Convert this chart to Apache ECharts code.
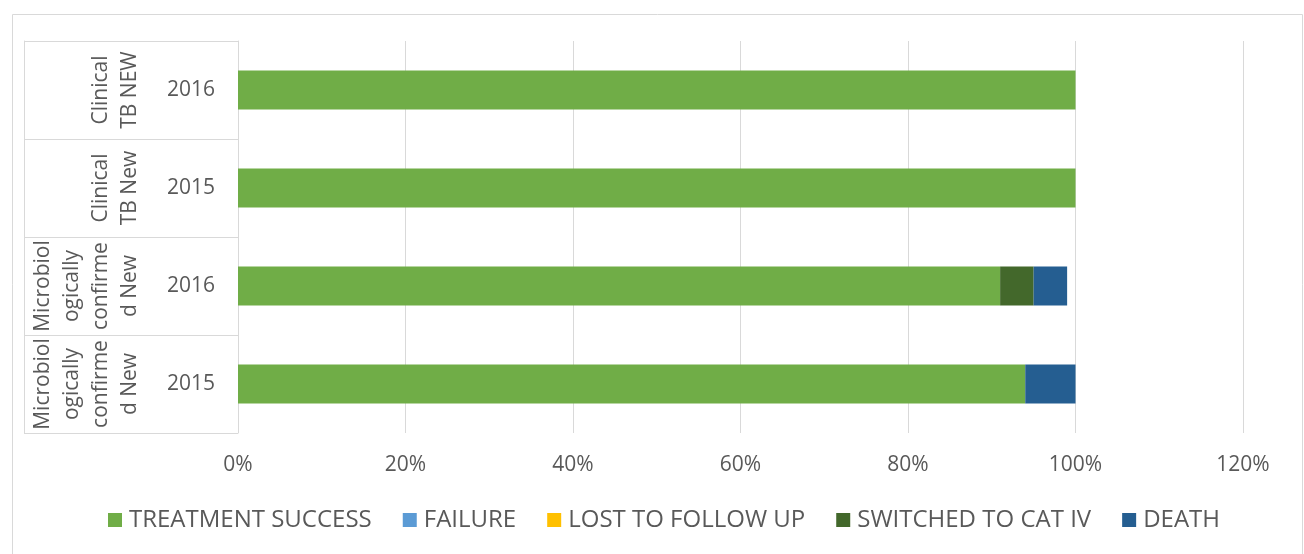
<!DOCTYPE html>
<html>
<head>
<meta charset="utf-8">
<script src="https://cdn.jsdelivr.net/npm/echarts@6/dist/echarts.min.js"></script>
<style>
html,body{margin:0;padding:0;background:#fff;}
#chart{width:1304px;height:554px;}
</style>
</head>
<body>
<div id="chart"></div>
<script>
// ---- data ----
var years = ['2015', '2016', '2015', '2016'];
var groupLabels = ['Microbiol\nogically\nconfirme\nd New', 'Microbiol\nogically\nconfirme\nd New', 'Clinical\nTB New', 'Clinical\nTB NEW'];
var seriesNames = ['TREATMENT SUCCESS', 'FAILURE', 'LOST TO FOLLOW UP', 'SWITCHED TO CAT IV', 'DEATH'];
var treatmentSuccess = [94, 91, 100, 100];
var failure = [0, 0, 0, 0];
var lostToFollowUp = [0, 0, 0, 0];
var switchedToCatIV = [0, 4, 0, 0];
var death = [6, 4, 0, 0];
var xTicks = [0, 20, 40, 60, 80, 100, 120];

var colors = ['#70ad47', '#5b9bd5', '#ffc000', '#43682b', '#255e91'];
var seriesValues = [treatmentSuccess, failure, lostToFollowUp, switchedToCatIV, death];
var FONT = '"Open Sans", sans-serif';
var TXT = '#595959';
var GRID = '#d9d9d9';

var chart = echarts.init(document.getElementById('chart'));
chart.setOption({
  animation: false,
  color: colors,
  graphic: [{
    type: 'rect', left: 10, top: 12, silent: true,
    shape: { width: 1290, height: 580 },
    style: { fill: 'none', stroke: GRID, lineWidth: 1 }
  }],
  grid: { left: 238, right: 61, top: 41, bottom: 121, containLabel: false },
  legend: {
    data: seriesNames,
    bottom: 17,
    left: 103,
    itemWidth: 14, itemHeight: 14, itemGap: 31,
    icon: 'rect',
    textStyle: { fontFamily: FONT, fontSize: 24, color: TXT, padding: [0, 0, 0, 2] }
  },
  xAxis: {
    type: 'value', min: xTicks[0], max: xTicks[xTicks.length - 1], interval: 20,
    axisLine: { show: false }, axisTick: { show: false },
    splitLine: { lineStyle: { color: GRID, width: 1 } },
    axisLabel: { formatter: '{value}%', fontFamily: FONT, fontSize: 21, color: TXT, margin: 22 }
  },
  yAxis: [{
    type: 'category', data: years, position: 'left',
    axisLine: { lineStyle: { color: GRID } },
    axisTick: { show: true, length: 214, lineStyle: { color: GRID } },
    axisLabel: { interval: 0, fontFamily: FONT, fontSize: 21, color: TXT, margin: 23 }
  }, {
    type: 'category', data: years, position: 'left', offset: 0,
    axisLine: { show: false }, axisTick: { show: false },
    axisLabel: {
      interval: 0, hideOverlap: false,
      formatter: function (v, i) { return groupLabels[i]; },
      rotate: 90, margin: 93, align: 'center', verticalAlign: 'bottom',
      fontFamily: FONT, fontSize: 21, lineHeight: 29, color: TXT
    }
  }, {
    type: 'category', data: years, position: 'left', offset: 214,
    axisLine: { show: true, lineStyle: { color: GRID } }, axisTick: { show: false },
    axisLabel: { show: false }
  }],
  series: seriesNames.map(function (n, k) {
    return {
      name: n, type: 'bar', stack: 'total', data: seriesValues[k],
      barCategoryGap: '60%',
      itemStyle: { color: colors[k] }
    };
  })
});
</script>
</body>
</html>
